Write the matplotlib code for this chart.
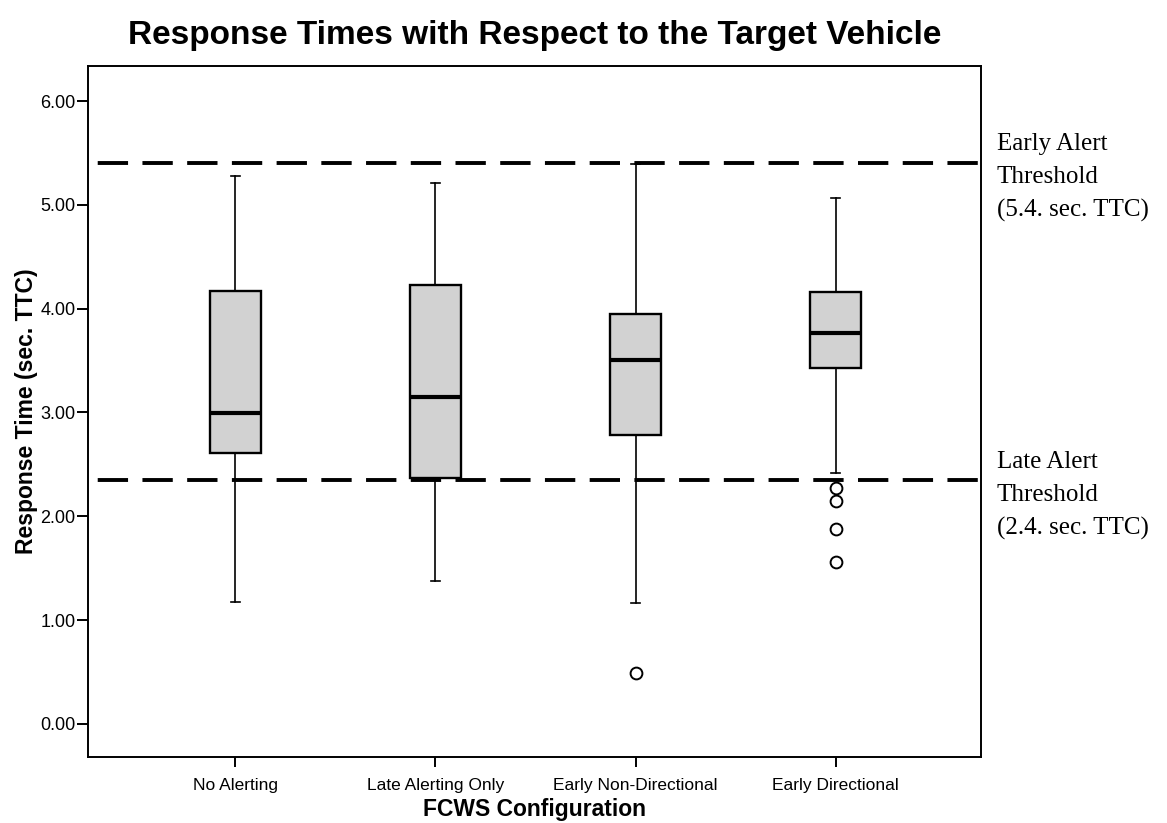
import matplotlib as mpl
mpl.use('Agg')
import matplotlib.pyplot as plt

# values
configs = ["No Alerting", "Late Alerting Only", "Early Non-Directional", "Early Directional"]
whisker_low = [1.17, 1.38, 1.16, 2.42]
q1 = [2.61, 2.37, 2.78, 3.43]
median = [2.99, 3.15, 3.51, 3.77]
q3 = [4.17, 4.23, 3.95, 4.16]
whisker_high = [5.28, 5.21, 5.39, 5.07]
outliers = [[], [], [0.49], [2.27, 2.15, 1.88, 1.56]]

early_threshold = 5.40
late_threshold = 2.35
threshold_labels = ["Early Alert\nThreshold\n(5.4. sec. TTC)", "Late Alert\nThreshold\n(2.4. sec. TTC)"]
yticks = [0, 1, 2, 3, 4, 5, 6]


def build_stats():
    stats = []
    for i, name in enumerate(configs):
        stats.append(dict(label=name, whislo=whisker_low[i], q1=q1[i], med=median[i],
                          q3=q3[i], whishi=whisker_high[i], fliers=outliers[i]))
    return stats


def plot_chart(save_path):
    fig = plt.figure(figsize=(11.67, 8.23), dpi=100)
    ax = fig.add_axes([0.0754, 0.0802, 0.7652, 0.8398])

    ax.bxp(build_stats(), positions=range(1, len(configs) + 1), widths=0.255,
           capwidths=0.045, patch_artist=True, showfliers=True,
           boxprops=dict(facecolor="#d2d2d2", edgecolor="black", linewidth=1.7),
           medianprops=dict(color="black", linewidth=3),
           whiskerprops=dict(color="black", linewidth=1.2),
           capprops=dict(color="black", linewidth=1.2),
           flierprops=dict(marker="o", markerfacecolor="white", markeredgecolor="black",
                           markersize=8.5, markeredgewidth=1.4))

    for thr in [early_threshold, late_threshold]:
        line = ax.axhline(thr, color="black", linewidth=2.8, zorder=1)
        line.set_linestyle((9.0, (7.8, 3.7)))

    ax.set_xlim(0.265, 4.725)
    ax.set_ylim(-0.32, 6.34)
    ax.set_yticks(yticks)
    ax.set_yticklabels(["{:.2f}".format(v) for v in yticks], fontsize=13)
    ax.set_xticks(range(1, len(configs) + 1))
    ax.set_xticklabels(configs, fontsize=12.5)
    ax.tick_params(axis="y", direction="out", length=8, width=1.4, pad=1)
    ax.tick_params(axis="x", direction="out", length=7, width=1.4, pad=8)
    for side in ax.spines:
        ax.spines[side].set_linewidth(1.4)

    ax.set_ylabel("Response Time (sec. TTC)", fontsize=16.5, fontweight="bold", labelpad=1.5)
    ax.set_xlabel("FCWS Configuration", fontsize=16.5, fontweight="bold", labelpad=4)
    fig.text(0.458, 0.957, "Response Times with Respect to the Target Vehicle",
             ha="center", va="center", fontsize=24, fontweight="bold")

    # threshold notes on the right
    fig.text(0.854, 0.838, threshold_labels[0], ha="left", va="top",
             fontsize=18, family="Liberation Serif", linespacing=1.62)
    fig.text(0.854, 0.452, threshold_labels[1], ha="left", va="top",
             fontsize=18, family="Liberation Serif", linespacing=1.62)

    plt.savefig(save_path, dpi=100)
    plt.close(fig)


if __name__ == "__main__":
    plt.rcParams['font.family'] = ['Liberation Sans', 'DejaVu Sans']
    plot_chart("out.png")
